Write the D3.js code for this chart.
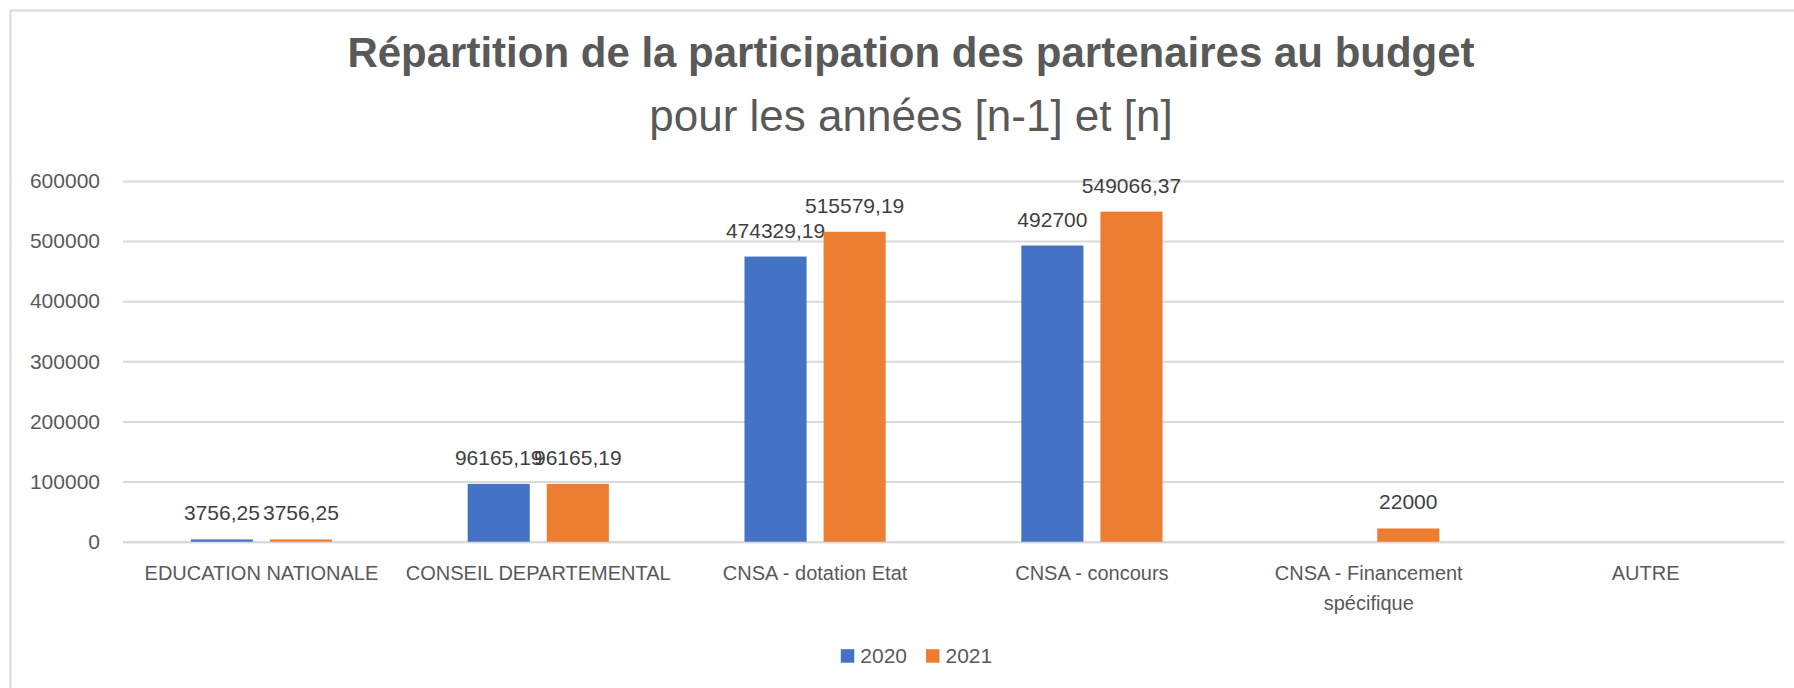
<!DOCTYPE html>
<html>
<head>
<meta charset="utf-8">
<script src="https://cdn.jsdelivr.net/npm/d3@7"></script>
<style>
  body { margin: 0; background: #fff; }
  svg { display: block; font-family: "Liberation Sans", Arial, sans-serif; }
</style>
</head>
<body>
<script>

// data
var categories = ["EDUCATION NATIONALE", "CONSEIL DEPARTEMENTAL", "CNSA - dotation Etat",
  "CNSA - concours", "CNSA - Financement spécifique", "AUTRE"];
var series = ["2020", "2021"];
var values2020 = [3756.25, 96165.19, 474329.19, 492700, null, null];
var values2021 = [3756.25, 96165.19, 515579.19, 549066.37, 22000, null];
var yTicks = [0, 100000, 200000, 300000, 400000, 500000, 600000];
var colors = ["#4472C4", "#ED7D31"];

var titleText = "Répartition de la participation des partenaires au budget";
var subtitleText = "pour les années [n-1] et [n]";

//Width and height
var w = 1794;
var h = 688;
// plot area (note: "top" is reserved on window, so use other names)
var plotLeft = 123, plotRight = 1784, plotTop = 181, plotBottom = 541.7;

var rows = [];
categories.forEach(function (c, i) {
  rows.push({ cat: c, vals: [values2020[i], values2021[i]] });
});

//Create SVG
var svg = d3.select("body")
  .append("svg")
  .attr("width", w)
  .attr("height", h);

// chart frame (only top and left edges are visible)
svg.append("path")
  .attr("d", "M10.5," + h + "V10.5H" + w)
  .attr("fill", "none")
  .attr("stroke", "#D9D9D9")
  .attr("stroke-width", 2);

// scales
var x0 = d3.scaleBand()
  .domain(categories)
  .range([plotLeft, plotRight])
  .paddingInner(0.49)
  .paddingOuter(0.245);

var x1 = d3.scaleBand()
  .domain(series)
  .range([0, x0.bandwidth()])
  .paddingInner(0.215);

var y = d3.scaleLinear()
  .domain([0, 600000])
  .range([plotBottom, plotTop]);

// title
svg.append("text")
  .attr("x", 911)
  .attr("y", 67)
  .attr("text-anchor", "middle")
  .attr("font-size", 42)
  .attr("font-weight", "bold")
  .attr("fill", "#595959")
  .text(titleText);

svg.append("text")
  .attr("x", 911)
  .attr("y", 131)
  .attr("text-anchor", "middle")
  .attr("font-size", 44)
  .attr("fill", "#595959")
  .text(subtitleText);

// y axis + gridlines
var yAxis = svg.append("g")
  .attr("transform", "translate(" + plotLeft + ",0)")
  .call(d3.axisLeft(y)
    .tickValues(yTicks)
    .tickSize(-(plotRight - plotLeft))
    .tickPadding(23)
    .tickFormat(d3.format("d")));

yAxis.select(".domain").remove();
yAxis.selectAll("line")
  .attr("stroke", "#D9D9D9")
  .attr("stroke-width", 2);
yAxis.selectAll("text")
  .attr("font-size", 21)
  .attr("font-family", "Liberation Sans, Arial, sans-serif")
  .attr("fill", "#595959");

// x axis
var xAxis = svg.append("g")
  .attr("transform", "translate(0," + plotBottom + ")")
  .call(d3.axisBottom(x0).tickSize(0).tickSizeOuter(0).tickPadding(24));

xAxis.select(".domain")
  .attr("stroke", "#D9D9D9")
  .attr("stroke-width", 2);
xAxis.selectAll("text")
  .attr("font-size", 20)
  .attr("font-family", "Liberation Sans, Arial, sans-serif")
  .attr("fill", "#595959")
  .call(wrap, x0.step());

function wrap(texts, width) {
  texts.each(function () {
    var text = d3.select(this);
    var words = text.text().split(/\s+/);
    var yy = text.attr("y");
    var dy = parseFloat(text.attr("dy"));
    var line = [];
    var lineNumber = 0;
    text.text(null);
    var tspan = text.append("tspan").attr("x", 0).attr("y", yy).attr("dy", dy + "em");
    words.forEach(function (word) {
      line.push(word);
      tspan.text(line.join(" "));
      if (tspan.node().getComputedTextLength() > width && line.length > 1) {
        line.pop();
        tspan.text(line.join(" "));
        line = [word];
        lineNumber++;
        tspan = text.append("tspan")
          .attr("x", 0)
          .attr("y", yy)
          .attr("dy", (dy + lineNumber * 1.5) + "em")
          .text(word);
      }
    });
  });
}

// bars
var groups = svg.append("g")
  .selectAll("g")
  .data(rows)
  .enter()
  .append("g")
  .attr("transform", function (d) { return "translate(" + x0(d.cat) + ",0)"; });

var cells = groups.selectAll("g")
  .data(function (d) {
    return d.vals.map(function (v, i) { return { s: series[i], v: v, i: i }; })
      .filter(function (e) { return e.v !== null; });
  })
  .enter()
  .append("g");

cells.append("rect")
  .attr("x", function (d) { return x1(d.s); })
  .attr("y", function (d) { return y(d.v); })
  .attr("width", x1.bandwidth())
  .attr("height", function (d) { return y(0) - y(d.v); })
  .attr("fill", function (d) { return colors[d.i]; });

// value labels
cells.append("text")
  .attr("x", function (d) { return x1(d.s) + x1.bandwidth() / 2; })
  .attr("y", function (d) { return y(d.v) - 19; })
  .attr("text-anchor", "middle")
  .attr("font-size", 21)
  .attr("fill", "#404040")
  .text(function (d) { return String(d.v).replace(".", ","); });

// legend
var legend = svg.append("g");
var lx = 0;
series.forEach(function (s, i) {
  var item = legend.append("g").attr("transform", "translate(" + lx + ",0)");
  item.append("rect")
    .attr("x", 0)
    .attr("y", -13.5)
    .attr("width", 13.5)
    .attr("height", 13.5)
    .attr("fill", colors[i]);
  var t = item.append("text")
    .attr("x", 19.5)
    .attr("y", 0)
    .attr("font-size", 21)
    .attr("fill", "#595959")
    .text(s);
  lx += 19.5 + t.node().getComputedTextLength() + 19;
});
var lw = legend.node().getBBox().width;
legend.attr("transform", "translate(" + (916.5 - lw / 2) + ",662.7)");

</script>
</body>
</html>
